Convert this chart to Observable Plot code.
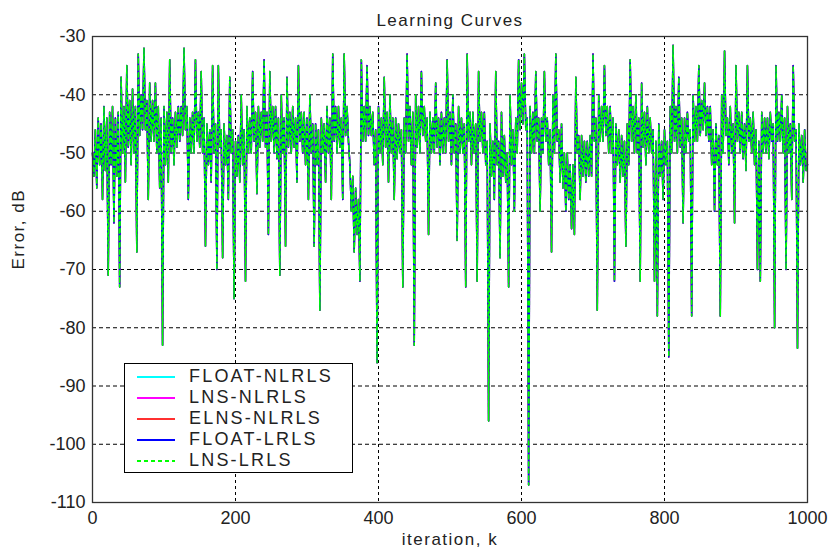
<!DOCTYPE html>
<html>
<head>
<meta charset="utf-8">
<script src="https://cdn.jsdelivr.net/npm/d3@7"></script>
<script src="https://cdn.jsdelivr.net/npm/@observablehq/plot@0.6"></script>
<style>
  html, body { margin: 0; padding: 0; background: #fff; }
  #wrap { position: relative; width: 831px; height: 556px; }
  #legend { position: absolute; background: #fff; border: 1px solid #000; box-sizing: border-box;
            font-family: "Liberation Sans", Arial, sans-serif; font-size: 18px; letter-spacing: 2.2px; color: #222; }
  #legend .row { display: flex; align-items: center; height: 21px; }
  #legend svg { margin-left: 12px; margin-right: 14px; }
</style>
</head>
<body>
<div id="wrap"></div>
<script>
// ---- data ----
const chartTitle = "Learning Curves";
const xLabel = "iteration, k";
const yLabel = "Error, dB";
const xTicks = [0, 200, 400, 600, 800, 1000];
const yTicks = [-30, -40, -50, -60, -70, -80, -90, -100, -110];
const seriesNames = ["FLOAT-NLRLS", "LNS-NLRLS", "ELNS-NLRLS", "FLOAT-LRLS", "LNS-LRLS"];
const sampleStep = 2; // iterations between the samples below
// error (dB) at k = 0, 2, 4, ... 1000 (all five curves coincide in the picture)
const errorDb = [
  -50, -54, -46, -56, -44, -52, -45, -58, -42, -53, -44, -71, -43, -52, -42, -62, -44, -54, -43, -73,
  -37, -50, -42, -55, -35, -49, -41, -52, -39, -50, -42, -67, -33, -47, -40, -46, -32, -46, -41, -58,
  -38, -48, -41, -48, -38, -50, -42, -56, -44, -83, -42, -52, -43, -55, -34, -50, -44, -52, -43, -49,
  -42, -48, -42, -47, -32, -46, -42, -58, -44, -50, -43, -50, -34, -48, -43, -49, -36, -50, -44, -66,
  -45, -52, -46, -55, -35, -50, -45, -70, -35, -49, -46, -68, -45, -52, -47, -58, -37, -50, -46, -75,
  -48, -54, -47, -55, -40, -52, -46, -72, -42, -50, -44, -50, -36, -48, -43, -57, -42, -49, -43, -48,
  -34, -49, -43, -64, -36, -48, -42, -50, -42, -51, -44, -71, -40, -50, -44, -66, -37, -49, -43, -50,
  -42, -49, -44, -55, -35, -48, -43, -50, -43, -52, -44, -58, -40, -50, -45, -66, -45, -52, -46, -77,
  -44, -50, -45, -55, -42, -50, -44, -58, -33, -48, -42, -50, -42, -49, -44, -58, -33, -47, -42, -48,
  -52, -60, -54, -67, -56, -64, -58, -72, -34, -48, -42, -48, -35, -47, -42, -47, -43, -52, -46, -86,
  -42, -50, -44, -52, -37, -49, -43, -55, -40, -50, -44, -58, -44, -51, -45, -50, -46, -73, -44, -50,
  -33, -48, -42, -52, -43, -83, -40, -49, -42, -50, -36, -47, -42, -48, -44, -64, -43, -50, -44, -50,
  -38, -49, -44, -52, -43, -50, -44, -50, -34, -48, -43, -52, -40, -50, -45, -65, -42, -50, -44, -50,
  -45, -73, -33, -48, -43, -52, -43, -50, -45, -72, -36, -48, -43, -50, -43, -52, -48, -96, -45, -54,
  -48, -58, -36, -52, -48, -68, -43, -54, -47, -55, -50, -73, -40, -52, -46, -60, -44, -50, -34, -46,
  -38, -45, -33, -46, -44, -107, -42, -50, -43, -50, -36, -48, -44, -60, -44, -50, -36, -48, -44, -52,
  -46, -67, -40, -50, -33, -48, -46, -55, -45, -56, -50, -60, -50, -58, -52, -63, -52, -64, -37, -50,
  -47, -58, -47, -54, -48, -55, -48, -54, -47, -54, -33, -48, -44, -77, -40, -48, -42, -48, -35, -47,
  -42, -50, -42, -50, -44, -72, -45, -52, -46, -55, -47, -54, -48, -66, -45, -52, -34, -48, -42, -50,
  -40, -50, -44, -72, -38, -49, -43, -52, -42, -50, -44, -50, -46, -72, -48, -78, -45, -54, -48, -58,
  -46, -52, -48, -85, -42, -50, -31.5, -48, -42, -50, -37, -49, -44, -62, -44, -50, -43, -48, -46, -78,
  -40, -48, -42, -48, -35, -47, -41, -46, -38, -47, -42, -48, -42, -52, -46, -60, -45, -52, -47, -78,
  -40, -50, -32.5, -47, -44, -52, -42, -50, -45, -62, -35, -48, -43, -50, -43, -51, -45, -53, -35, -48,
  -44, -50, -43, -52, -46, -70, -48, -72, -43, -50, -44, -50, -44, -51, -43, -48, -45, -80, -35, -48,
  -43, -48, -40, -50, -44, -70, -42, -50, -45, -58, -35, -48, -46, -83.5, -45, -52, -47, -55, -46, -53,
  -52
];

// ---- styles ----
const seriesColors = ["#00ffff", "#ff00ff", "#ff3030", "#0000ff", "#00ff00"];
const seriesDash = [null, null, null, null, "4,3"];
const font = "'Liberation Sans', Arial, sans-serif";

const rows = errorDb.map((v, i) => ({k: i * sampleStep, db: v}));

const lineMarks = seriesNames.map((name, s) =>
  Plot.line(rows, {x: "k", y: "db", stroke: seriesColors[s], strokeWidth: 1.5,
                   strokeDasharray: seriesDash[s] ?? undefined})
);

const chart = Plot.plot({
  width: 831,
  height: 556,
  marginLeft: 92,
  marginRight: 24,
  marginTop: 36,
  marginBottom: 54,
  style: {fontFamily: font, fontSize: "17px", color: "#222", background: "#fff"},
  x: {domain: [0, 1000], ticks: xTicks, label: null, tickFormat: d => String(d)},
  y: {domain: [-110, -30], ticks: yTicks, label: null, tickFormat: d => String(d)},
  marks: [
    Plot.ruleX(xTicks.slice(1, -1), {stroke: "#000", strokeWidth: 1, strokeDasharray: "3,3"}),
    Plot.ruleY(yTicks.slice(1, -1), {stroke: "#000", strokeWidth: 1, strokeDasharray: "4,3"}),
    ...lineMarks,
    Plot.axisX(xTicks, {tickSize: 0, tickPadding: 9, fontSize: 18, tickFormat: d => String(d)}),
    Plot.axisY(yTicks, {tickSize: 0, tickPadding: 7, fontSize: 18, tickFormat: d => String(d)}),
    Plot.frame({stroke: "#333", strokeWidth: 1.3}),
    Plot.text([chartTitle], {frameAnchor: "top", dy: -23, fontSize: 17}),
    Plot.text([xLabel], {frameAnchor: "bottom", dy: 42, fontSize: 17}),
    Plot.text([yLabel], {frameAnchor: "left", dx: -74, rotate: -90, fontSize: 17})
  ]
});

chart.querySelectorAll("text").forEach(t => {
  if ([chartTitle, xLabel, yLabel].includes(t.textContent)) t.setAttribute("letter-spacing", "1.5");
});

const wrap = document.getElementById("wrap");
wrap.appendChild(chart);

// legend box inside the axes, like the MATLAB legend
const legend = document.createElement("div");
legend.id = "legend";
legend.style.left = "124px";
legend.style.top = "363px";
legend.style.width = "229px";
legend.style.height = "110px";
legend.style.paddingTop = "2px";
seriesNames.forEach((name, s) => {
  const row = document.createElement("div");
  row.className = "row";
  const dash = seriesDash[s] ? `stroke-dasharray="${seriesDash[s]}"` : "";
  row.innerHTML = `<svg width="38" height="4"><line x1="0" y1="2" x2="38" y2="2" stroke="${seriesColors[s]}" stroke-width="2" ${dash}/></svg><span>${name}</span>`;
  legend.appendChild(row);
});
wrap.appendChild(legend);
</script>
</body>
</html>
